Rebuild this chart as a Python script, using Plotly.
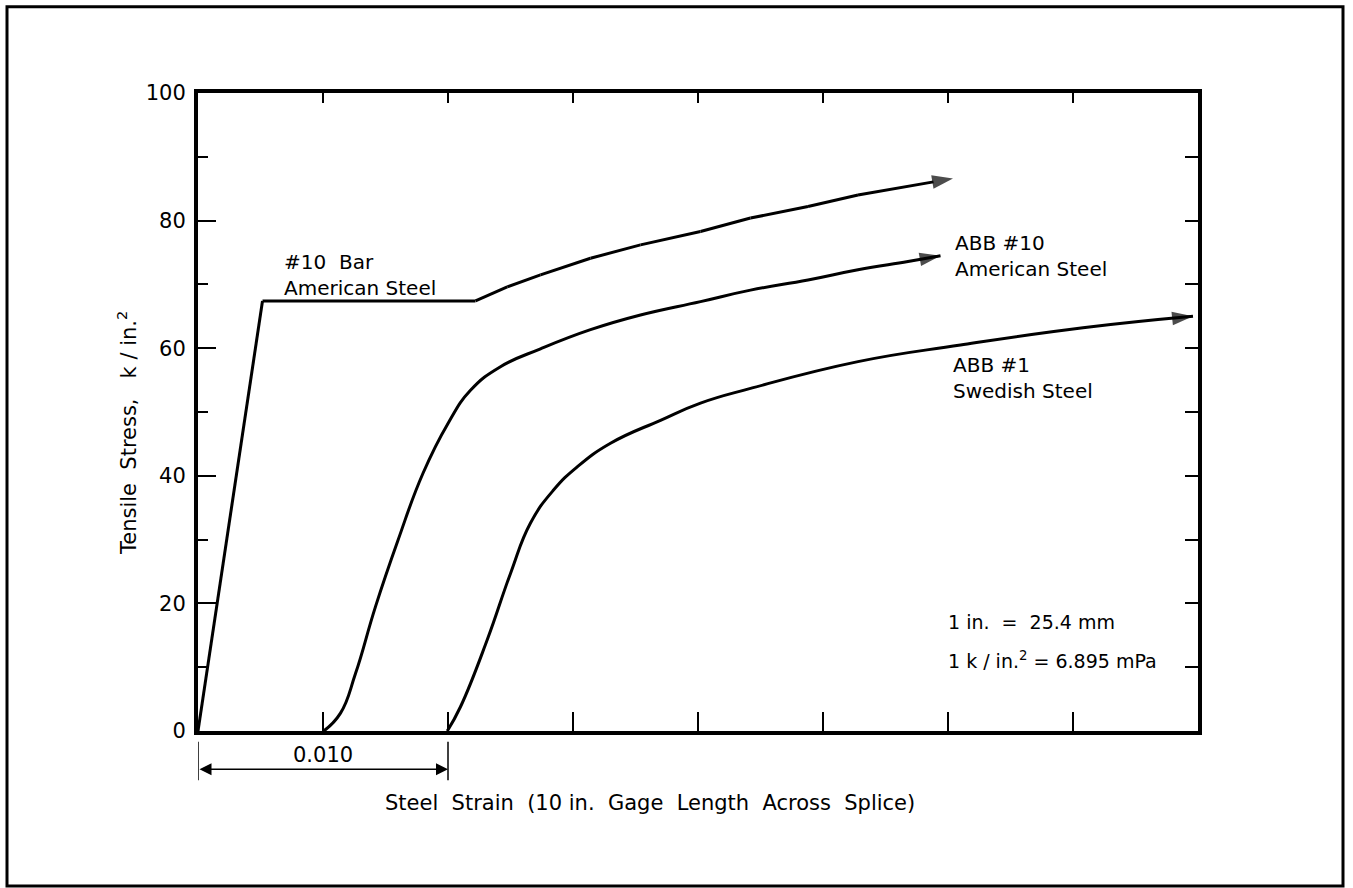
import plotly.graph_objects as go

# ---- data ----
bar10_strain = [0.0, 0.00258, 0.0111, 0.01237, 0.0137, 0.0157, 0.0177, 0.0201, 0.0221, 0.0244, 0.0264, 0.0284, 0.0302]
bar10_stress = [0.0, 67.4, 67.4, 69.6, 71.5, 74.1, 76.2, 78.3, 80.4, 82.2, 84.0, 85.4, 86.6]

abb10_strain = [0.00503, 0.0057, 0.0063, 0.0071, 0.0080, 0.0090, 0.0100, 0.0109, 0.0121, 0.0137, 0.0157,
                0.0177, 0.0201, 0.0221, 0.0244, 0.0264, 0.0284, 0.0297]
abb10_stress = [0.0, 2.8, 9.0, 19.5, 29.9, 40.4, 48.2, 53.4, 57.1, 59.9, 62.9,
                65.2, 67.3, 69.1, 70.7, 72.3, 73.6, 74.5]

abb1_strain = [0.00997, 0.0105, 0.01157, 0.0125, 0.0133, 0.01423, 0.01517, 0.0165, 0.0185, 0.0201,
               0.0221, 0.0264, 0.0305, 0.0354, 0.0398]
abb1_stress = [0.0, 3.8, 14.3, 24.7, 32.6, 37.8, 41.4, 45.1, 48.7, 51.4,
               53.7, 57.9, 60.5, 63.2, 65.0]

x_ticks = [0.0, 0.005, 0.010, 0.015, 0.020, 0.025, 0.030, 0.035, 0.040]
y_ticks = [0, 20, 40, 60, 80, 100]
y_tick_labels = ["0", "20", "40", "60", "80", "100"]

dim_strain = [0.0, 0.010]
dim_label = "0.010"

FONT = "DejaVu Sans"
INK = "black"

fig = go.Figure()


def curve(xs, ys, shape):
    n = len(xs)
    fig.add_trace(go.Scatter(
        x=xs, y=ys, mode="lines+markers",
        line=dict(color=INK, width=3, shape=shape, smoothing=1.3),
        marker=dict(symbol="arrow", angleref="previous", color=INK,
                    size=[0] * (n - 1) + [22], line=dict(width=0)),
        showlegend=False, hoverinfo="skip",
    ))


curve(bar10_strain, bar10_stress, "linear")
curve(abb10_strain, abb10_stress, "spline")
curve(abb1_strain, abb1_stress, "spline")

# a dummy trace for the secondary axes
fig.add_trace(go.Scatter(x=[x_ticks[0]], y=[y_ticks[0]], xaxis="x2", yaxis="y2",
                         mode="markers", marker=dict(size=0, opacity=0),
                         showlegend=False, hoverinfo="skip"))

# dimension extension lines below the axis
for xv in dim_strain:
    fig.add_shape(type="line", xref="x", yref="paper", x0=xv, x1=xv, y0=-0.017, y1=-0.077,
                  line=dict(color=INK, width=1.5))

# outer frame
fig.add_shape(type="rect", xref="paper", yref="paper", x0=-0.191, x1=1.145, y0=-0.243, y1=1.135,
              line=dict(color=INK, width=3), fillcolor="rgba(0,0,0,0)")

axis_common = dict(showgrid=False, zeroline=False, linecolor=INK, linewidth=4,
                   tickcolor=INK, tickwidth=2)

fig.update_layout(
    width=1353, height=888,
    margin=dict(l=198, r=155, t=93, b=157, pad=0),
    paper_bgcolor="white", plot_bgcolor="white",
    font=dict(family=FONT, color=INK, size=20),
    xaxis=dict(range=[x_ticks[0], x_ticks[-1]], tickvals=x_ticks, ticks="inside", ticklen=19,
               showticklabels=False, showline=True, **axis_common),
    xaxis2=dict(range=[x_ticks[0], x_ticks[-1]], tickvals=x_ticks, ticks="inside", ticklen=10,
                overlaying="x", side="top", showticklabels=False, showline=True, **axis_common),
    yaxis=dict(range=[y_ticks[0], y_ticks[-1]], tickvals=y_ticks, ticktext=y_tick_labels,
               ticks="inside", ticklen=18, showline=True,
               tickfont=dict(family=FONT, size=21), ticklabelstandoff=4,
               minor=dict(ticks="inside", ticklen=10, dtick=10, tick0=0, tickcolor=INK, tickwidth=2),
               **axis_common),
    yaxis2=dict(range=[y_ticks[0], y_ticks[-1]], dtick=10, ticks="inside", ticklen=13,
                overlaying="y", side="right", showticklabels=False, showline=True, **axis_common),
)

ann = []


def label(text, x, y, size=20, xref="x", yref="y", xanchor="left", angle=0):
    ann.append(dict(text=text, x=x, y=y, xref=xref, yref=yref, xanchor=xanchor, yanchor="middle",
                    align="left", showarrow=False, textangle=angle,
                    font=dict(family=FONT, size=size, color=INK)))


label("#10  Bar<br>American Steel", 0.00335, 71.4)
label("ABB #10<br>American Steel", 0.0302, 74.4)
label("ABB #1<br>Swedish Steel", 0.0301, 55.3)
label("1 in.  =  25.4 mm", 0.0299, 17.1, size=19)
label("1 k / in.<sup>2</sup> = 6.895 mPa", 0.0299, 11.1, size=19)
label(dim_label, 0.005, -0.037, size=21, yref="paper", xanchor="center")
label("Steel  Strain  (10 in.  Gage  Length  Across  Splice)", 0.452, -0.113, size=21,
      xref="paper", yref="paper", xanchor="center")
label("Tensile  Stress,   k / in.<sup>2</sup>", -0.071, 0.467, size=21,
      xref="paper", yref="paper", xanchor="center", angle=-90)

# double-headed dimension arrow spanning 0.010 strain
ann.append(dict(x=dim_strain[1], y=-0.06, xref="x", yref="paper",
                ax=dim_strain[0], ay=0, axref="x", ayref="pixel",
                showarrow=True, arrowside="end+start", arrowhead=2, startarrowhead=2,
                arrowsize=1.6, startarrowsize=1.6, arrowwidth=1.5, arrowcolor=INK,
                standoff=0, startstandoff=0, text=""))

fig.update_layout(annotations=ann)
fig.write_html("out.html")
